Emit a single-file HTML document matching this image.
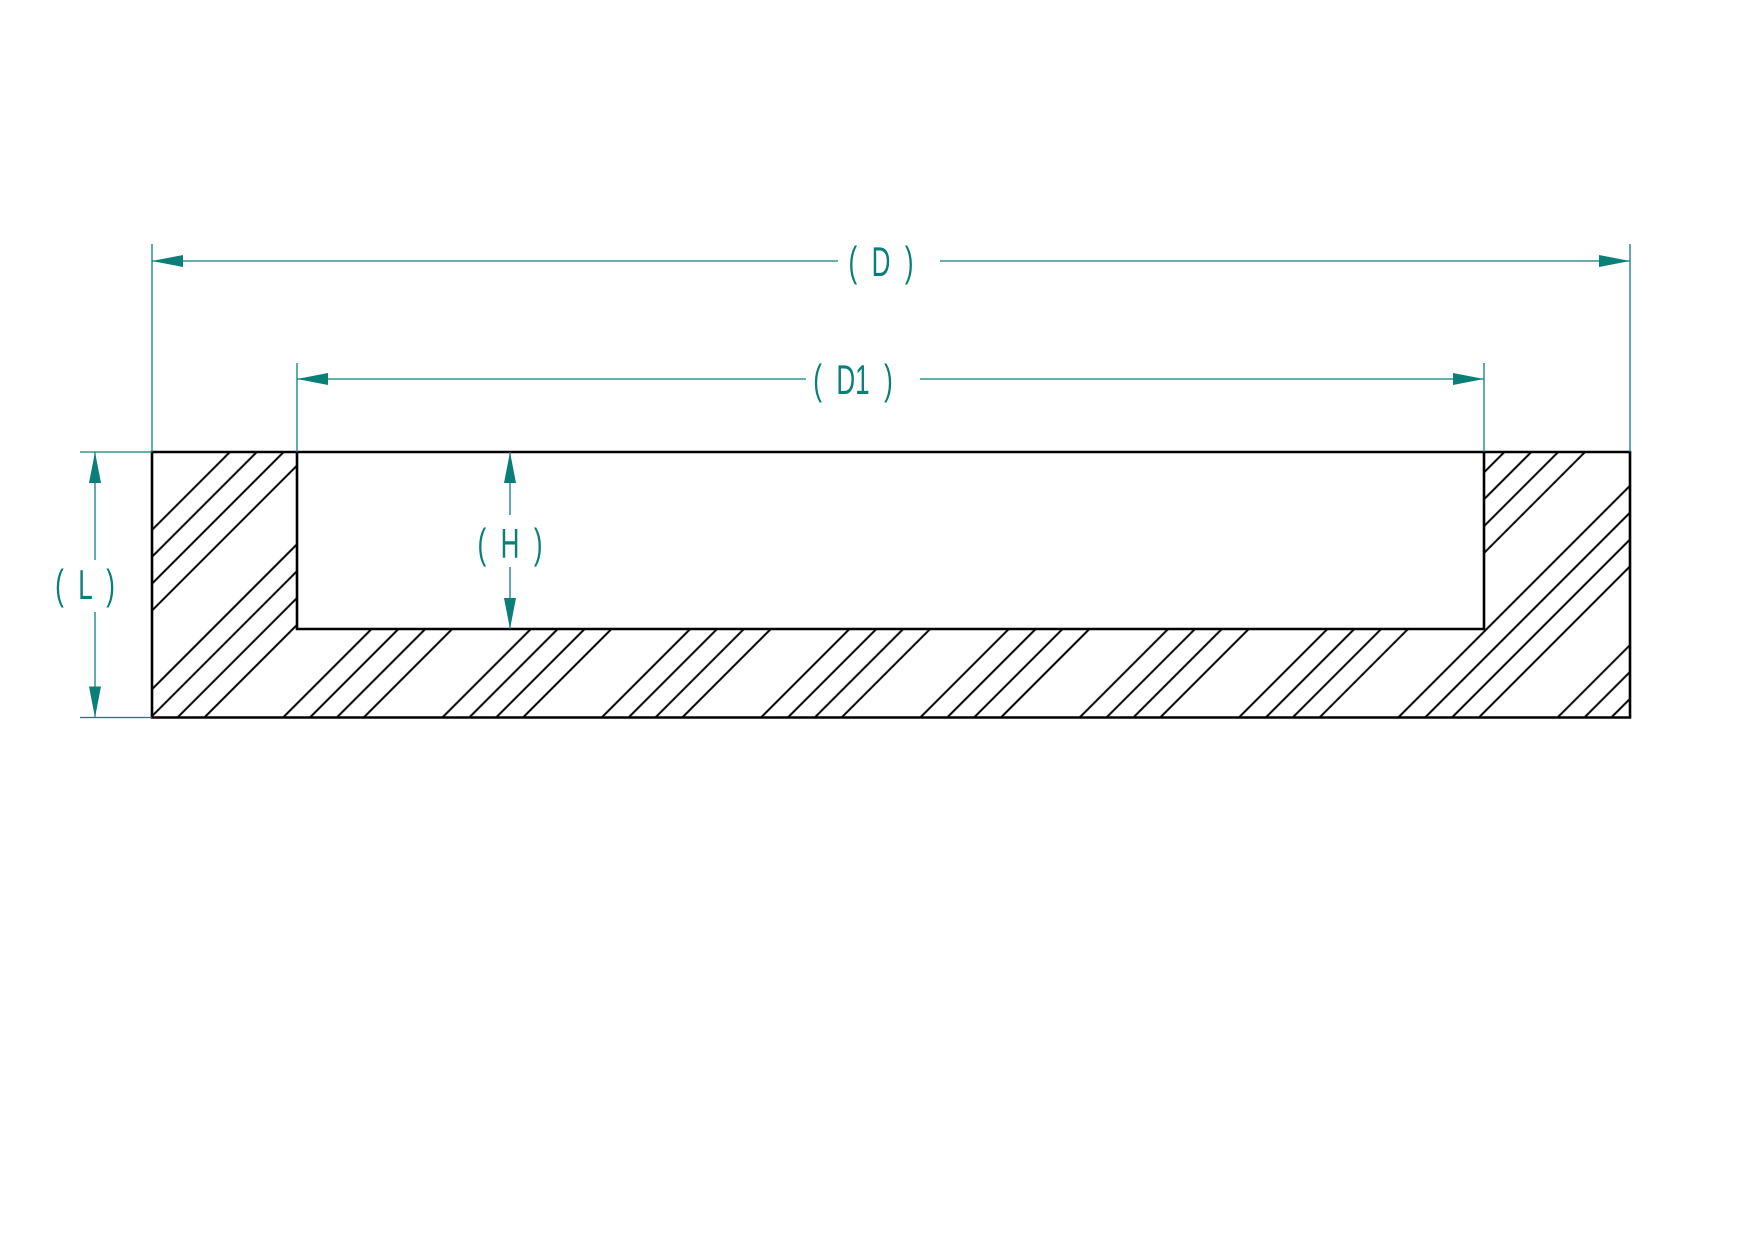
<!DOCTYPE html>
<html><head><meta charset="utf-8"><style>html,body{margin:0;padding:0;background:#fff}svg{display:block}</style></head>
<body>
<svg width="1755" height="1240" viewBox="0 0 1755 1240" xmlns="http://www.w3.org/2000/svg">
<defs>
<pattern id="h" patternUnits="userSpaceOnUse" width="112.65" height="20" patternTransform="rotate(45)">
<line x1="31.6" y1="-5" x2="31.6" y2="25" stroke="#000" stroke-width="2"/>
<line x1="50.6" y1="-5" x2="50.6" y2="25" stroke="#000" stroke-width="2"/>
<line x1="69.6" y1="-5" x2="69.6" y2="25" stroke="#000" stroke-width="2"/>
<line x1="88.6" y1="-5" x2="88.6" y2="25" stroke="#000" stroke-width="2"/>
</pattern>
</defs>
<path d="M152 452 H1630 V717.5 H152 Z M297 452 V629 H1484 V452 Z" fill="url(#h)" fill-rule="evenodd"/>
<path d="M152 452 H1630 V717.5 H152 Z" fill="none" stroke="#000" stroke-width="2.6"/>
<path d="M297 452 V629 H1484 V452" fill="none" stroke="#000" stroke-width="2.6"/>
<g stroke="#0a7f78" stroke-width="1.3" fill="none">
<line x1="152" y1="244" x2="152" y2="452"/>
<line x1="1630" y1="244" x2="1630" y2="452"/>
<line x1="152" y1="261" x2="838" y2="261"/>
<line x1="940" y1="261" x2="1630" y2="261"/>
<line x1="297" y1="363" x2="297" y2="452"/>
<line x1="1484" y1="363" x2="1484" y2="452"/>
<line x1="297" y1="379" x2="806" y2="379"/>
<line x1="920" y1="379" x2="1484" y2="379"/>
<line x1="80" y1="452" x2="152" y2="452"/>
<line x1="80" y1="717.5" x2="152" y2="717.5"/>
<line x1="95" y1="452" x2="95" y2="560"/>
<line x1="95" y1="612" x2="95" y2="717.5"/>
<line x1="510" y1="452" x2="510" y2="515"/>
<line x1="510" y1="567" x2="510" y2="629"/>
</g>
<g fill="#0a7f78">
<polygon points="152,261 183,255 183,267"/>
<polygon points="1630,261 1599,255 1599,267"/>
<polygon points="297,379 328,373 328,385"/>
<polygon points="1484,379 1453,373 1453,385"/>
<polygon points="95,452 89,483 101,483"/>
<polygon points="95,717.5 89,686.5 101,686.5"/>
<polygon points="510,452 504,483 516,483"/>
<polygon points="510,629 504,598 516,598"/>
</g>
<g fill="#0a7f78" font-family="Liberation Sans, sans-serif" font-size="42" text-anchor="middle">
<text x="881" y="276" transform="translate(881 0) scale(0.62 1) translate(-881 0)" xml:space="preserve">(  D  )</text>
<text x="853" y="394" transform="translate(853 0) scale(0.62 1) translate(-853 0)" xml:space="preserve">(  D1  )</text>
<text x="510" y="558" transform="translate(510 0) scale(0.62 1) translate(-510 0)" xml:space="preserve">(  H  )</text>
<text x="85" y="599" transform="translate(85 0) scale(0.62 1) translate(-85 0)" xml:space="preserve">(  L  )</text>
</g>
</svg>
</body></html>
